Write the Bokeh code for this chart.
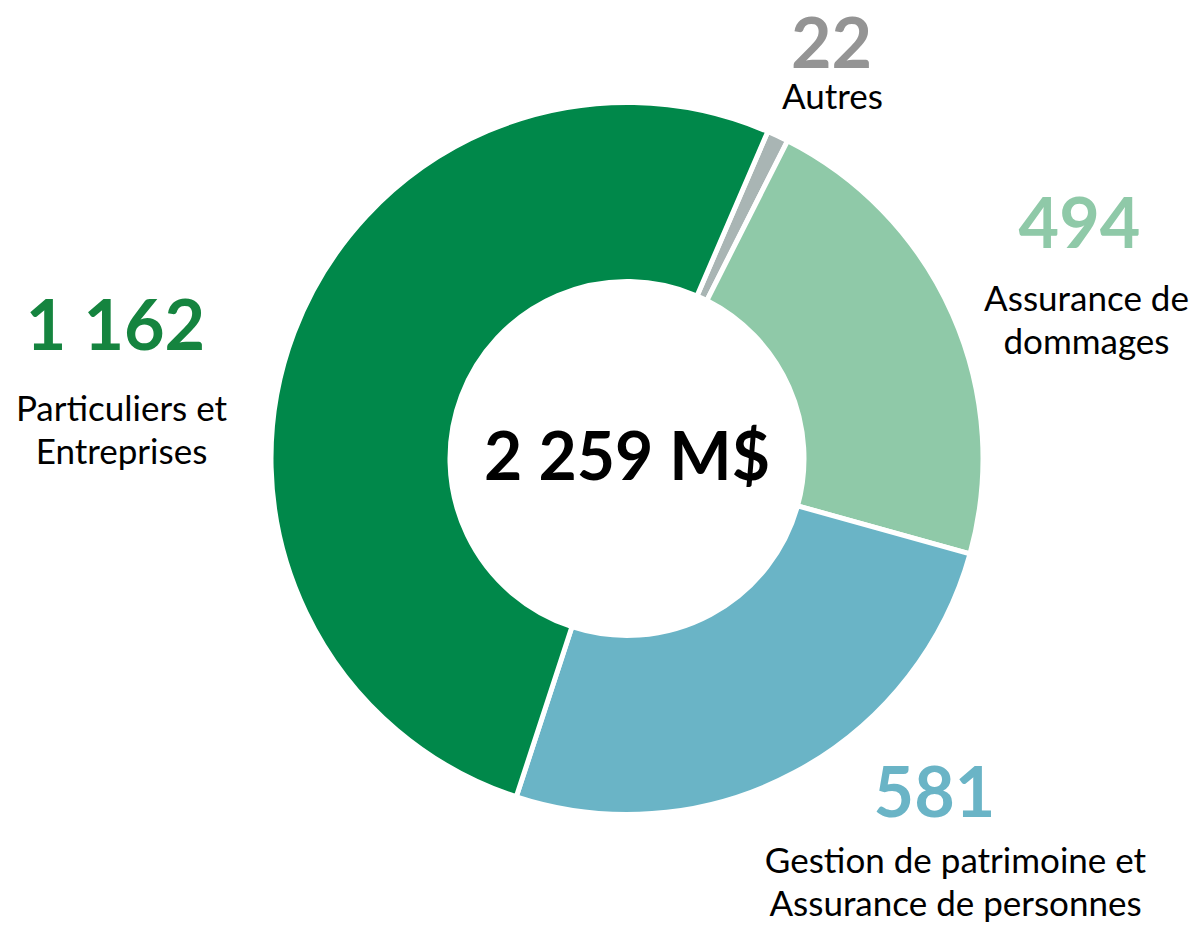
import math
from bokeh.plotting import figure
from bokeh.models import Range1d, ColumnDataSource
from bokeh.core.properties import value
from bokeh.embed import file_html
from bokeh.resources import INLINE

# ---- data (clockwise order starting near the top) ----
categories = ["Autres", "Assurance de\ndommages", "Gestion de patrimoine et\nAssurance de personnes", "Particuliers et\nEntreprises"]
values = [22, 494, 581, 1162]
slice_colors = ["#A9B5B4", "#8FC9A8", "#6AB4C6", "#00884A"]
number_colors = ["#949494", "#8FC9A8", "#6AB4C6", "#15843F"]
unit = "M$"

# ---- layout (image pixel coordinates, y downward) ----
W, H = 1192, 925
cx, cy = 626.5, 458.0
r_outer, r_inner = 356.0, 177.0
start_deg = 23.3  # clockwise from 12 o'clock
number_pos = [(831, 70), (1079, 250), (934, 819), (115, 350)]
label_pos = [(832, 108), (1086, 310), (955, 872), (121, 420)]
label_lh = 43
FONT = "Lato"
NUM_SIZE, LAB_SIZE, TOT_SIZE = 70, 35, 66
K = 0.40  # baseline correction factor (em)

p = figure(width=W, height=H, x_range=Range1d(0, W), y_range=Range1d(-H, 0),
           output_backend="svg", toolbar_location=None, min_border=0,
           outline_line_color=None, background_fill_color="white")
p.axis.visible = False
p.grid.visible = False

total = sum(values)
starts, ends = [], []
acc = start_deg
for v in values:
    a0 = acc
    a1 = acc + v / total * 360.0
    acc = a1
    starts.append(math.radians(90 - a1))
    ends.append(math.radians(90 - a0))

src = ColumnDataSource(dict(x=[cx] * len(values), y=[-cy] * len(values),
                            start=starts, end=ends, color=slice_colors))
p.annular_wedge(x="x", y="y", inner_radius=r_inner, outer_radius=r_outer,
                start_angle="start", end_angle="end", fill_color="color",
                line_color="white", line_width=5, source=src)

# number labels
num_src = ColumnDataSource(dict(
    x=[pp[0] for pp in number_pos], y=[-(pp[1] - K * NUM_SIZE) for pp in number_pos],
    text=[f"{v:,}".replace(",", " ") for v in values], color=number_colors))
p.text(x="x", y="y", text="text", text_color="color", source=num_src,
       text_font=value(FONT), text_font_style="bold", text_font_size=f"{NUM_SIZE}px",
       text_align="center", text_baseline="alphabetic")

# category labels (one row per line)
lx, ly, lt = [], [], []
for (px, py), cat in zip(label_pos, categories):
    for i, line in enumerate(cat.split("\n")):
        lx.append(px)
        ly.append(-(py + i * label_lh - K * LAB_SIZE))
        lt.append(line)
p.text(x=lx, y=ly, text=lt, text_color="black",
       text_font=value(FONT), text_font_size=f"{LAB_SIZE}px",
       text_align="center", text_baseline="alphabetic")

# center total
p.text(x=[cx], y=[-(480 - K * TOT_SIZE)], text=[f"{total:,}".replace(",", " ") + " " + unit],
       text_color="black", text_font=value(FONT), text_font_style="bold",
       text_font_size=f"{TOT_SIZE}px", text_align="center", text_baseline="alphabetic")

open("out.html", "w").write(file_html(p, INLINE))
